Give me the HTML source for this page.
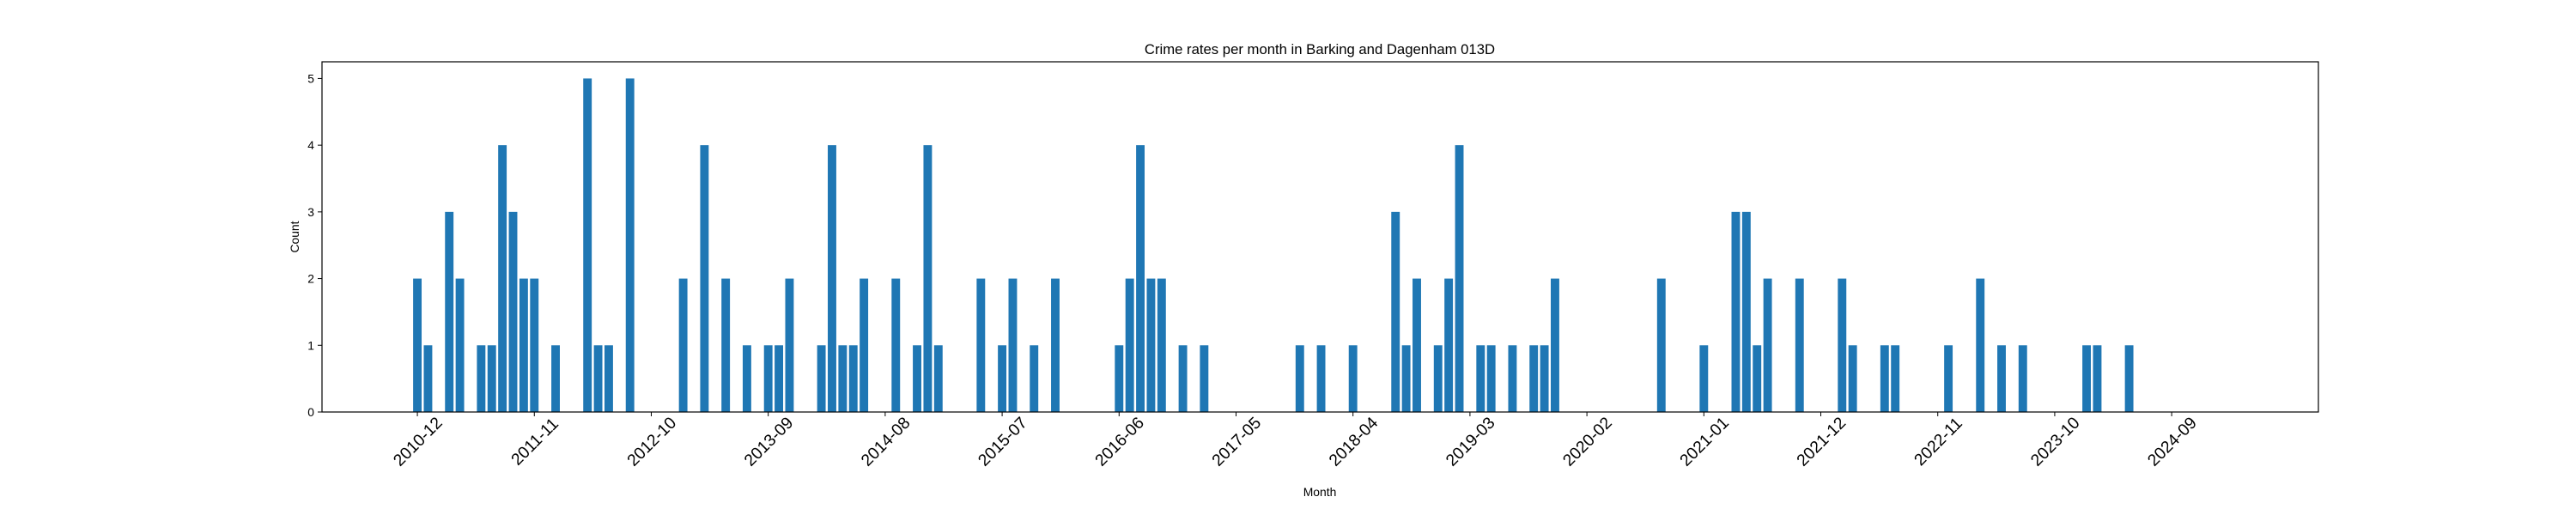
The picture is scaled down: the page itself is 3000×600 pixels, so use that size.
<!DOCTYPE html>
<html><head><meta charset="utf-8"><style>
html,body{margin:0;padding:0;background:#fff;}
svg{display:block;font-family:"Liberation Sans","DejaVu Sans",sans-serif;}
</style></head><body>
<svg id="chart" width="3000" height="600" viewBox="0 0 3000 600" xmlns="http://www.w3.org/2000/svg">
<rect width="3000" height="600" fill="#fff"/>
<text x="1537" y="63" text-anchor="middle" font-size="16.7" fill="#000">Crime rates per month in Barking and Dagenham 013D</text>
<g id="bars"></g>
<g id="yaxis"></g>
<g id="xaxis"></g>
<rect x="375" y="72" width="2325" height="408" fill="none" stroke="#000" stroke-width="1.2"/>
<text x="348" y="276" text-anchor="middle" font-size="13.9" transform="rotate(-90 348 276)">Count</text>
<text x="1537" y="578" text-anchor="middle" font-size="13.9">Month</text>
</svg>
<script>
const barMonths = ["2010-12","2011-01","2011-03","2011-04","2011-06","2011-07","2011-08","2011-09","2011-10","2011-11","2012-01","2012-04","2012-05","2012-06","2012-08","2013-01","2013-03","2013-05","2013-07","2013-09","2013-10","2013-11","2014-02","2014-03","2014-04","2014-05","2014-06","2014-09","2014-11","2014-12","2015-01","2015-05","2015-07","2015-08","2015-10","2015-12","2016-06","2016-07","2016-08","2016-09","2016-10","2016-12","2017-02","2017-11","2018-01","2018-04","2018-08","2018-09","2018-10","2018-12","2019-01","2019-02","2019-04","2019-05","2019-07","2019-09","2019-10","2019-11","2020-09","2021-01","2021-04","2021-05","2021-06","2021-07","2021-10","2022-02","2022-03","2022-06","2022-07","2022-12","2023-03","2023-05","2023-07","2024-01","2024-02","2024-05"];
const barCounts = [2,1,3,2,1,1,4,3,2,2,1,5,1,1,5,2,4,2,1,1,1,2,1,4,1,1,2,2,1,4,1,2,1,2,1,2,1,2,4,2,2,1,1,1,1,1,3,1,2,1,2,4,1,1,1,1,1,2,2,1,3,3,1,2,2,2,1,1,1,1,2,1,1,1,1,1];
const xTickLabels = ["2010-12","2011-11","2012-10","2013-09","2014-08","2015-07","2016-06","2017-05","2018-04","2019-03","2020-02","2021-01","2021-12","2022-11","2023-10","2024-09"];
const yTicks = [0,1,2,3,4,5];

const NS = "http://www.w3.org/2000/svg";
const PL = 375, PR = 2700, PT = 72, PB = 480;
const XMIN = -8.97, XMAX = 178.8, YMIN = 0, YMAX = 5.25;
function monthIndex(s){ const [y,m] = s.split('-').map(Number); return (y-2010)*12 + (m-12); }
function xScale(i){ return PL + (i - XMIN) / (XMAX - XMIN) * (PR - PL); }
function yScale(v){ return PB - (v - YMIN) / (YMAX - YMIN) * (PB - PT); }
const bw = (xScale(1) - xScale(0)) * 0.8;

const gb = document.getElementById('bars');
barMonths.forEach((mo, k) => {
  const cx = xScale(monthIndex(mo));
  const r = document.createElementNS(NS, 'rect');
  r.setAttribute('x', cx - bw/2);
  r.setAttribute('y', yScale(barCounts[k]));
  r.setAttribute('width', bw);
  r.setAttribute('height', yScale(0) - yScale(barCounts[k]));
  r.setAttribute('fill', '#1f77b4');
  
  
  gb.appendChild(r);
});

const gy = document.getElementById('yaxis');
yTicks.forEach(v => {
  const y = yScale(v);
  const l = document.createElementNS(NS, 'line');
  l.setAttribute('x1', PL - 5); l.setAttribute('x2', PL);
  l.setAttribute('y1', y); l.setAttribute('y2', y);
  l.setAttribute('stroke', '#000'); l.setAttribute('stroke-width', '1');
  
  
  gy.appendChild(l);
  const t = document.createElementNS(NS, 'text');
  t.setAttribute('x', PL - 9); t.setAttribute('y', y + 5);
  t.setAttribute('text-anchor', 'end'); t.setAttribute('font-size', '13.9');
  t.textContent = v;
  
  
  gy.appendChild(t);
});

const gx = document.getElementById('xaxis');
xTickLabels.forEach(lbl => {
  const x = xScale(monthIndex(lbl));
  const l = document.createElementNS(NS, 'line');
  l.setAttribute('x1', x); l.setAttribute('x2', x);
  l.setAttribute('y1', PB); l.setAttribute('y2', PB + 5);
  l.setAttribute('stroke', '#000'); l.setAttribute('stroke-width', '1');
  
  
  gx.appendChild(l);
  const cy = 514;
  const t = document.createElementNS(NS, 'text');
  t.setAttribute('x', x); t.setAttribute('y', cy + 7);
  t.setAttribute('text-anchor', 'middle'); t.setAttribute('font-size', '19.4');
  t.setAttribute('transform', 'rotate(-45 ' + x + ' ' + cy + ')');
  t.textContent = lbl;
  
  
  gx.appendChild(t);
});
</script>
</body></html>
